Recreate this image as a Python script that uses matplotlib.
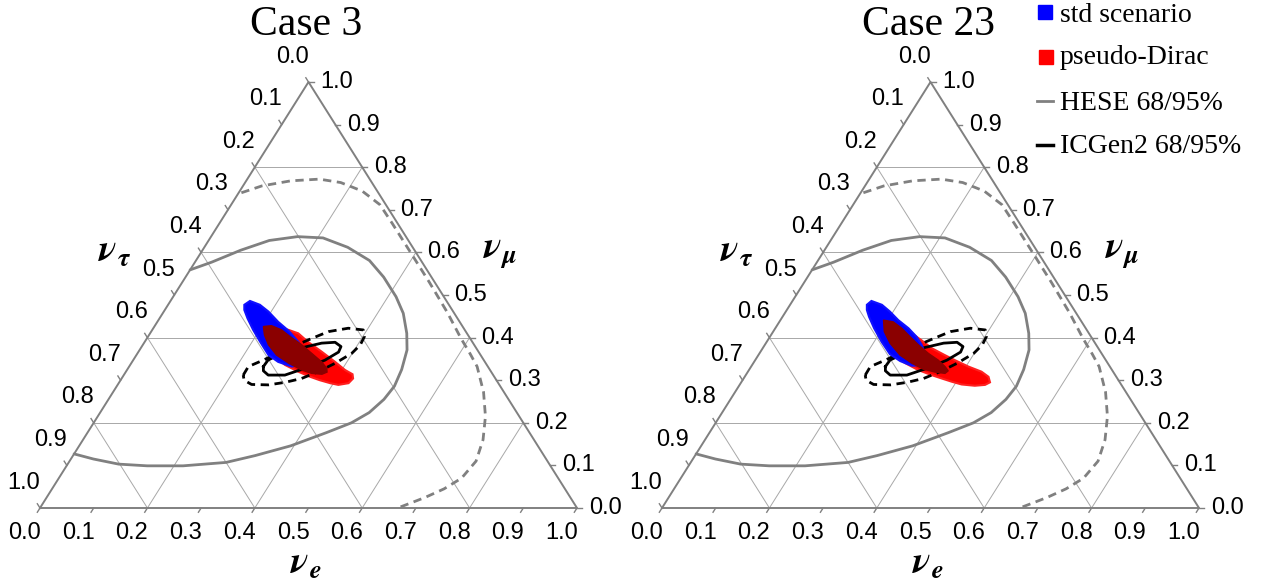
import numpy as np
import matplotlib.pyplot as plt

plt.rcParams['mathtext.fontset'] = 'stix'

# ---- data (flavour fractions nu_e, nu_mu; nu_tau = 1 - e - mu) ----
ticks = np.round(np.arange(0, 1.01, 0.1), 1)
tick_labels = ['%.1f' % t for t in ticks]
grid_vals = [0.2, 0.4, 0.6, 0.8]
titles = ['Case 3', 'Case 23']

hese68_e = [0.000, 0.031, 0.071, 0.113, 0.161, 0.210, 0.267, 0.323, 0.369, 0.415, 0.448, 0.478,
            0.498, 0.511, 0.517, 0.513, 0.501, 0.480, 0.445, 0.394, 0.339, 0.293, 0.217, 0.150,
            0.095, 0.042, 0.000]
hese68_mu = [0.559, 0.577, 0.605, 0.628, 0.637, 0.634, 0.612, 0.581, 0.542, 0.496, 0.457, 0.410,
             0.371, 0.325, 0.286, 0.255, 0.224, 0.200, 0.177, 0.146, 0.123, 0.107, 0.099, 0.099,
             0.103, 0.115, 0.127]

hese95_e = [0.005, 0.035, 0.083, 0.134, 0.178, 0.228, 0.277, 0.322, 0.390, 0.460, 0.530, 0.585,
            0.620, 0.648, 0.690, 0.722, 0.745, 0.757, 0.750, 0.730, 0.705, 0.685, 0.666]
hese95_mu = [0.740, 0.756, 0.768, 0.772, 0.764, 0.744, 0.712, 0.668, 0.600, 0.530, 0.458, 0.398,
             0.362, 0.332, 0.272, 0.215, 0.160, 0.110, 0.070, 0.045, 0.025, 0.012, 0.000]

ic68_e = [0.250, 0.251, 0.2685, 0.299, 0.331, 0.355, 0.371, 0.373, 0.357, 0.3295, 0.300, 0.269, 0.255]
ic68_mu = [0.332, 0.347, 0.363, 0.376, 0.387, 0.389, 0.379, 0.366, 0.347, 0.328, 0.312, 0.312, 0.322]

ic95_e = [0.2225, 0.222, 0.242, 0.2707, 0.307, 0.330, 0.363, 0.393, 0.403, 0.405, 0.399, 0.380,
          0.358, 0.335, 0.309, 0.281, 0.249, 0.230]
ic95_mu = [0.312, 0.332, 0.347, 0.371, 0.398, 0.414, 0.422, 0.418, 0.402, 0.383, 0.363, 0.340,
           0.320, 0.304, 0.295, 0.289, 0.290, 0.300]

# case 3
std3_e = [0.142, 0.148, 0.171, 0.195, 0.225, 0.255, 0.286, 0.312, 0.318, 0.303, 0.272, 0.246,
          0.215, 0.188, 0.164, 0.148]
std3_mu = [0.477, 0.486, 0.477, 0.461, 0.437, 0.416, 0.390, 0.363, 0.340, 0.332, 0.343, 0.359,
           0.390, 0.418, 0.445, 0.465]
pd3_e = [0.203, 0.225, 0.254, 0.276, 0.304, 0.341, 0.378, 0.406, 0.425, 0.431, 0.428, 0.411,
         0.394, 0.371, 0.349, 0.321, 0.288, 0.255, 0.224, 0.207]
pd3_mu = [0.426, 0.426, 0.418, 0.410, 0.390, 0.367, 0.343, 0.324, 0.314, 0.304, 0.293, 0.289,
          0.293, 0.300, 0.308, 0.320, 0.336, 0.359, 0.390, 0.415]
core3_e = [0.203, 0.217, 0.241, 0.265, 0.296, 0.3245, 0.353, 0.370, 0.375, 0.368, 0.348, 0.325,
           0.293, 0.261, 0.234, 0.215]
core3_mu = [0.426, 0.428, 0.418, 0.402, 0.383, 0.363, 0.343, 0.328, 0.319, 0.314, 0.316, 0.324,
            0.340, 0.359, 0.383, 0.406]

# case 23
std23_e = [0.143, 0.147, 0.171, 0.194, 0.2195, 0.248, 0.273, 0.292, 0.315, 0.319, 0.298, 0.271,
           0.244, 0.214, 0.184, 0.161, 0.149]
std23_mu = [0.477, 0.486, 0.477, 0.461, 0.441, 0.422, 0.402, 0.383, 0.355, 0.336, 0.334, 0.345,
            0.361, 0.390, 0.422, 0.449, 0.465]
pd23_e = [0.187, 0.225, 0.260, 0.286, 0.315, 0.347, 0.372, 0.4046, 0.435, 0.454, 0.4633, 0.457,
          0.439, 0.413, 0.3913, 0.369, 0.346, 0.315, 0.283, 0.251, 0.220, 0.197]
pd23_mu = [0.445, 0.430, 0.410, 0.394, 0.375, 0.359, 0.347, 0.332, 0.320, 0.308, 0.295, 0.289,
           0.287, 0.290, 0.2965, 0.304, 0.312, 0.324, 0.340, 0.359, 0.390, 0.422]
core23_e = [0.192, 0.212, 0.2354, 0.261, 0.286, 0.3145, 0.341, 0.361, 0.372, 0.369, 0.349, 0.3234,
            0.295, 0.2636, 0.231, 0.207]
core23_mu = [0.441, 0.437, 0.422, 0.402, 0.383, 0.363, 0.347, 0.332, 0.322, 0.316, 0.319, 0.326,
             0.340, 0.359, 0.387, 0.414]

cases = [(std3_e, std3_mu, pd3_e, pd3_mu, core3_e, core3_mu),
         (std23_e, std23_mu, pd23_e, pd23_mu, core23_e, core23_mu)]

# ---- layout (pixels) ----
W, H = 1261, 583
TW, TH = 537, 426
BASE = 508
origins = [40, 662]

fig = plt.figure(figsize=(W / 100, H / 100), dpi=100)


def xy(e, mu):
    e = np.asarray(e, float)
    mu = np.asarray(mu, float)
    return e + mu / 2, mu


border_c = '#808080'
grid_c = '#a8a8a8'
tick_font = dict(family='Liberation Sans', fontsize=17)
greek_fs = 27

for k, ox in enumerate(origins):
    ax = fig.add_axes([ox / W, (H - BASE) / H, TW / W, TH / H])
    ax.set_xlim(0, 1)
    ax.set_ylim(0, 1)
    ax.axis('off')

    # gridlines
    for g in grid_vals:
        ax.plot([g / 2, 1 - g / 2], [g, g], color=grid_c, lw=0.7, zorder=1)
        ax.plot([g, g + (1 - g) / 2], [0, 1 - g], color=grid_c, lw=0.7, zorder=1)
        ax.plot([1 - g, (1 - g) / 2], [0, 1 - g], color=grid_c, lw=0.7, zorder=1)
    ax.plot([0, 1, 0.5, 0], [0, 0, 1, 0], color=border_c, lw=1.4, zorder=2, clip_on=False)

    # ticks and labels (offsets in pixels -> data)
    dl = np.array([-0.533, 0.846])   # pixel direction (right, up)
    for t, lab in zip(ticks, tick_labels):
        # bottom: nu_e
        bx, by = t, 0.0
        d = np.array([-0.533, -0.846])
        ax.plot([bx, bx + d[0] * 5 / TW], [by, by + d[1] * 5 / TH], color=border_c, lw=1, clip_on=False)
        ax.text(bx + d[0] * 29 / TW, by + d[1] * 29 / TH, lab, ha='center', va='center', **tick_font)
        # left: nu_tau
        mu = 1 - t
        lx, ly = mu / 2, mu
        d = np.array([-0.533, 0.846])
        ax.plot([lx, lx + d[0] * 5 / TW], [ly, ly + d[1] * 5 / TH], color=border_c, lw=1, clip_on=False)
        ax.text(lx + d[0] * 30 / TW, ly + d[1] * 30 / TH, lab, ha='center', va='center', **tick_font)
        # right: nu_mu
        rx, ry = 1 - t / 2, t
        ax.plot([rx, rx + 5 / TW], [ry, ry], color=border_c, lw=1, clip_on=False)
        ax.text(rx + 28 / TW, ry, lab, ha='center', va='center', **tick_font)

    # HESE contours
    x, y = xy(hese68_e, hese68_mu)
    ax.plot(x, y, color='#808080', lw=2.0, zorder=3, solid_capstyle='round')
    x, y = xy(hese95_e, hese95_mu)
    ax.plot(x, y, color='#808080', lw=2.0, ls=(0, (3, 2)), zorder=3)

    se, smu, pe, pmu, ce, cmu = cases[k]
    x, y = xy(pe, pmu)
    ax.fill(x, y, color='#ff0000', lw=1.5, ec='#ff2020', zorder=4)

    # ICGen2 contours
    x, y = xy(ic68_e + ic68_e[:1], ic68_mu + ic68_mu[:1])
    ax.plot(x, y, color='black', lw=2.0, zorder=5)
    x, y = xy(ic95_e + ic95_e[:1], ic95_mu + ic95_mu[:1])
    ax.plot(x, y, color='black', lw=2.0, ls=(0, (3, 2)), zorder=5)

    x, y = xy(se, smu)
    ax.fill(x, y, color='#0000ff', lw=1.5, ec='#1010ff', zorder=6)
    x, y = xy(ce, cmu)
    ax.fill(x, y, color='#8b0000', lw=1.0, ec='#8b0000', zorder=7)

    # axis names
    ax.text(-194 / TW + 0.5 + (112 - 112) / TW, (BASE - 252) / TH, r'$\mathbfit{\nu}_{\mathbfit{\tau}}$',
            ha='center', va='center', fontsize=greek_fs)
    ax.text((500 - 40) / TW, (BASE - 252) / TH, r'$\mathbfit{\nu}_{\mathbfit{\mu}}$',
            ha='center', va='center', fontsize=greek_fs)
    ax.text((306 - 40) / TW, (BASE - 563) / TH, r'$\mathbfit{\nu}_{\mathbfit{e}}$',
            ha='center', va='center', fontsize=greek_fs)

    fig.text((ox + 266) / W, 1 - 35 / H, titles[k], ha='center', va='baseline',
             family='Liberation Serif', fontsize=30)

# ---- legend (pixel overlay) ----
ov = fig.add_axes([0, 0, 1, 1], facecolor='none')
ov.set_xlim(0, W)
ov.set_ylim(H, 0)
ov.axis('off')
leg_labels = ['std scenario', 'pseudo-Dirac', 'HESE 68/95%', 'ICGen2 68/95%']
leg_y = [22, 64, 110, 153]
ov.plot([1045], [12], marker='s', ms=9.5, color='#0000ff', ls='none')
ov.plot([1046], [57], marker='s', ms=9.5, color='#ff0000', ls='none')
ov.plot([1037, 1053], [101, 101], color='#808080', lw=2)
ov.plot([1037, 1053], [145, 145], color='black', lw=2.5)
for lab, yy in zip(leg_labels, leg_y):
    ov.text(1060, yy, lab, ha='left', va='baseline', family='Liberation Serif', fontsize=20)

fig.savefig('out.png', dpi=100)
